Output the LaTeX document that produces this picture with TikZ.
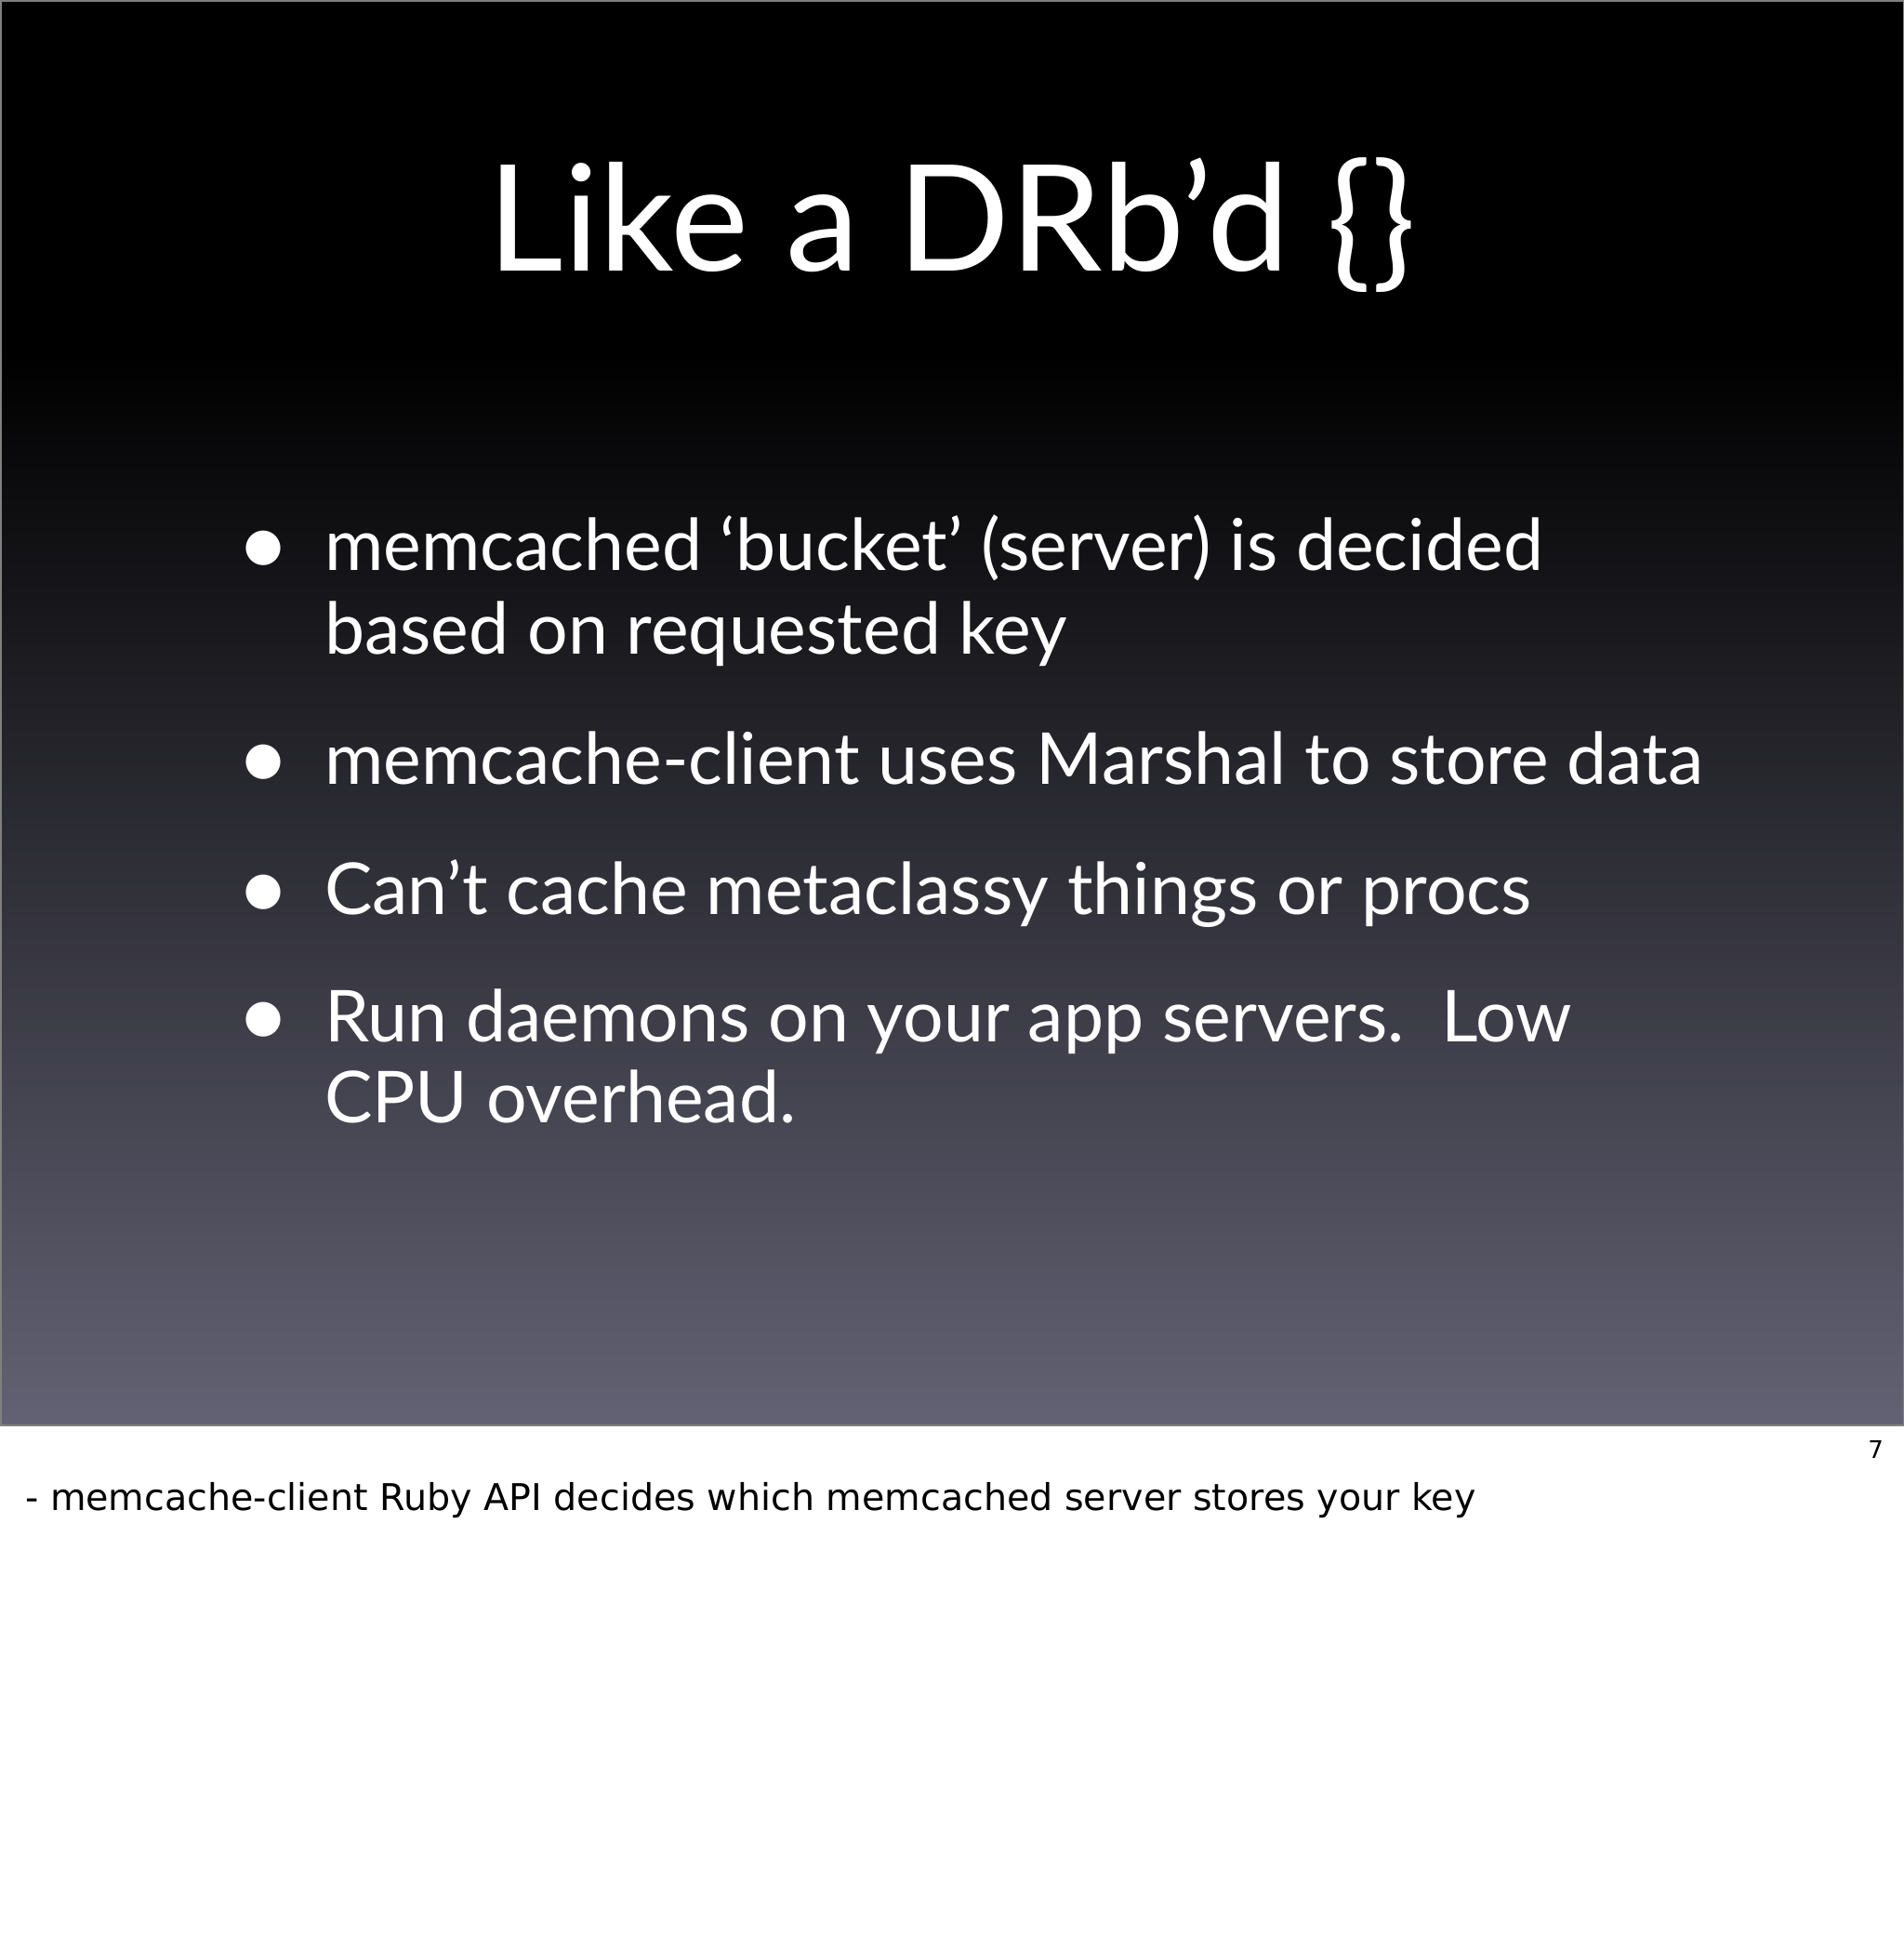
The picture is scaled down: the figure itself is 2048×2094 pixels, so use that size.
\documentclass[tikz,border=0pt]{standalone}
\usepackage{fontspec}
\setmainfont{Lato}
\newfontfamily\notefont{DejaVu Sans}
\definecolor{slidebot}{RGB}{99,98,116}
\definecolor{slidemid}{RGB}{30,31,56}
\begin{document}
\begin{tikzpicture}[x=1pt,y=-1pt,
  bul/.style={anchor=base west,text=white,font=\fontsize{77}{84}\selectfont,inner sep=0},
  dot/.style={anchor=base,text=white,font=\fontsize{100}{100}\selectfont,inner sep=0}]
\useasboundingbox (0,0) rectangle (2048,2094);
\fill[white] (0,0) rectangle (2048,2094);
\fill[black] (0,0) rectangle (2048,380);
\shade[top color=black,middle color=slidemid,bottom color=slidebot] (0,380) rectangle (2048,1533);
\draw[gray,line width=1.5] (0.75,0.75) rectangle (2047.25,1533);
\node[anchor=base,text=white,font=\fontsize{159}{165}\selectfont,inner sep=0] (title) at (1024,291) {Like a DRb’d \{\}};
\foreach \y in {613,843,983,1120}{\node[dot] at (283,\y+6) {•};}
\node[bul] (b1) at (349,613) {memcached ‘bucket’ (server) is decided};
\node[bul] (b1b) at (349,703) {based on requested key};
\node[bul] (b2) at (349,843) {memcache-client uses Marshal to store data};
\node[bul] (b3) at (349,983) {Can’t cache metaclassy things or procs};
\node[bul] (b4) at (349,1120) {Run daemons on your app servers.\ \ Low};
\node[bul] (b4b) at (349,1207) {CPU overhead.};
\node[anchor=base east,font=\notefont\fontsize{26}{30}\selectfont,inner sep=0] (pg) at (2026,1568) {7};
\node[anchor=base west,font=\notefont\fontsize{39.6}{44}\selectfont,inner sep=0] (note) at (27,1624) {- memcache-client Ruby API decides which memcached server stores your key};
\end{tikzpicture}
\end{document}
